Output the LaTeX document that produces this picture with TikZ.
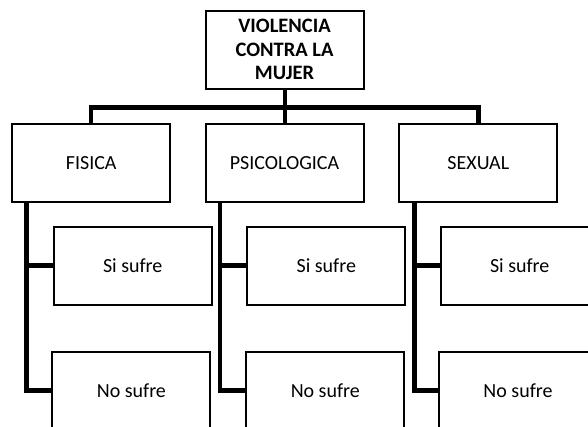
\documentclass[tikz,border=0pt]{standalone}
\usepackage{fontspec}
\setmainfont{Carlito}
\begin{document}
\begin{tikzpicture}[x=1pt,y=-1pt,
  box/.style={draw=black,line width=2pt,minimum width=158pt,minimum height=78pt,inner sep=0pt,align=center,font=\fontsize{20}{23.3}\selectfont},
  conn/.style={draw=black,line width=4.5pt}]
\useasboundingbox (0,0) rectangle (588,426);
\clip (0,0) rectangle (588,426);
\node[box,font=\fontsize{20.5}{23.3}\selectfont\bfseries] (top) at (284.5,49.5) {VIOLENCIA\\CONTRA LA\\MUJER};
\node[box] (fis) at (91.2,163) {FISICA};
\node[box] (psi) at (284.5,163) {PSICOLOGICA};
\node[box] (sex) at (478.3,163) {SEXUAL};
\node[box] (si1) at (132.7,265.7) {Si sufre};
\node[box] (no1) at (131.4,390.7) {No sufre};
\node[box] (si2) at (326.3,265.7) {Si sufre};
\node[box] (no2) at (325.3,390.7) {No sufre};
\node[box] (si3) at (519.7,265.7) {Si sufre};
\node[box] (no3) at (518,390.7) {No sufre};
\coordinate (bar) at (285,107.7);
\draw[conn] (top.south -| bar) -- (psi.north -| bar);
\draw[conn] (fis.north) |- (bar) -| (sex.north);
\draw[conn] ([xshift=15.5pt]fis.south west) coordinate (f1) |- (no1.west);
\draw[conn] (si1.west) -- (si1.west -| f1);
\draw[conn] ([xshift=15.5pt]psi.south west) coordinate (f2) |- (no2.west);
\draw[conn] (si2.west) -- (si2.west -| f2);
\draw[conn] ([xshift=16pt]sex.south west) coordinate (f3) |- (no3.west);
\draw[conn] (si3.west) -- (si3.west -| f3);
\end{tikzpicture}
\end{document}
